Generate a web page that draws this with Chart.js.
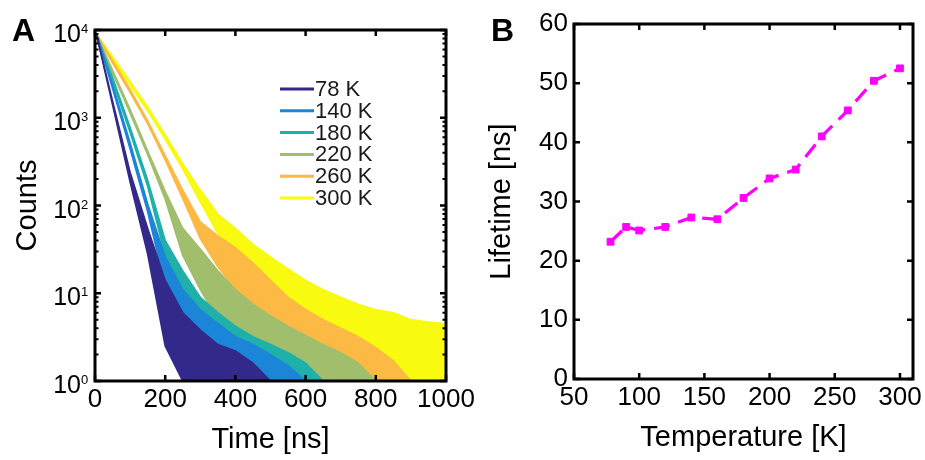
<!DOCTYPE html>
<html><head><meta charset="utf-8">
<script src="https://cdn.jsdelivr.net/npm/chart.js@4.4.1/dist/chart.umd.min.js"></script>
<style>
html,body{margin:0;padding:0;background:#fff;}
#wrap{position:relative;width:925px;height:460px;overflow:hidden;font-family:'Liberation Sans',Arial,Helvetica,sans-serif;}
#ca{position:absolute;left:0;top:0;}
#cb{position:absolute;left:480px;top:0;}
.pl{position:absolute;font-weight:bold;font-size:32px;line-height:1;color:#000;}
</style></head><body>
<div id="wrap">
<canvas id="ca" width="490" height="460"></canvas>
<canvas id="cb" width="445" height="460"></canvas>
<div class="pl" style="left:12px;top:14px">A</div>
<div class="pl" style="left:491px;top:14px">B</div>
</div>
<script>
const FONT = "'Liberation Sans', Arial, Helvetica, sans-serif";

// ---------- Panel A: decay curves (envelopes) ----------
const decayTimes = [4, 50, 100, 150, 200, 250, 300, 350, 400, 450, 500, 550, 600, 650, 700, 750, 800, 850, 900, 950, 1000];
const curveLabels = ['78 K', '140 K', '180 K', '220 K', '260 K', '300 K'];
const upper78  = [9000, 1550, 240, 55, 14, 6, 3.8, 2.6, 2.2, 1.6, 1, 1, 1, 1, 1, 1, 1, 1, 1, 1, 1];
const lower78  = [9000, 1400, 185, 28, 2.5, 1, 1, 1, 1, 1, 1, 1, 1, 1, 1, 1, 1, 1, 1, 1, 1];
const upper140 = [9000, 2400, 520, 105, 26, 11, 6.5, 4.5, 3.2, 2.6, 2, 1.5, 1, 1, 1, 1, 1, 1, 1, 1, 1];
const lower140 = [9000, 2150, 440, 85, 12, 4, 1.8, 1, 1, 1, 1, 1, 1, 1, 1, 1, 1, 1, 1, 1, 1];
const upper180 = [9000, 2900, 780, 195, 40, 18, 9, 6, 4.2, 3.2, 2.6, 2.1, 1.6, 1, 1, 1, 1, 1, 1, 1, 1];
const lower180 = [9000, 2600, 680, 165, 27, 7, 2.5, 1, 1, 1, 1, 1, 1, 1, 1, 1, 1, 1, 1, 1, 1];
const upper220 = [9000, 3500, 1250, 420, 145, 55, 32, 18, 11, 7.5, 5.5, 4.2, 3.3, 2.6, 2.1, 1.6, 1, 1, 1, 1, 1];
const lower220 = [9000, 3250, 1130, 380, 118, 27, 11, 5, 2.5, 1, 1, 1, 1, 1, 1, 1, 1, 1, 1, 1, 1];
const upper260 = [9000, 4500, 2100, 920, 370, 150, 65, 45, 33, 22, 14, 9, 6.5, 5, 4, 3.2, 2.4, 1.7, 1, 1, 1];
const lower260 = [9000, 4200, 1950, 850, 330, 120, 42, 20, 11, 5, 2.5, 1.2, 1, 1, 1, 1, 1, 1, 1, 1, 1];
const upper300 = [9000, 5000, 2600, 1330, 640, 300, 150, 80, 55, 36, 26, 19, 14, 11, 9, 7.5, 6.5, 6, 5, 4.7, 4.5];
const lower300 = [9000, 4600, 2350, 1200, 570, 260, 110, 48, 25, 13, 7, 4, 3, 2, 1.4, 1, 1, 1, 1, 1, 1];
const timeTicks = [0, 200, 400, 600, 800, 1000];
const countTicks = [1, 10, 100, 1000, 10000];
const countExponents = ['0', '1', '2', '3', '4'];

// ---------- Panel B: lifetime vs temperature ----------
const temperatures = [78, 90, 100, 120, 140, 160, 180, 200, 220, 240, 260, 280, 300];
const lifetimes = [23.2, 25.7, 25.1, 25.7, 27.3, 27.0, 30.6, 33.9, 35.4, 41.0, 45.4, 50.4, 52.5];
const tempTicks = [50, 100, 150, 200, 250, 300];
const lifeTicks = [0, 10, 20, 30, 40, 50, 60];

const curveColors = ['#32298a', '#1b85d8', '#1fb0aa', '#a0be6c', '#fcb943', '#f8fa0f'];
const uppers = [upper78, upper140, upper180, upper220, upper260, upper300];
const lowers = [lower78, lower140, lower180, lower220, lower260, lower300];

const dsA = [];
curveLabels.forEach((lab, k) => {
  dsA.push({label: lab, data: decayTimes.map((t, i) => ({x: t, y: uppers[k][i]})),
    borderColor: curveColors[k], backgroundColor: curveColors[k], borderWidth: 1.6,
    pointRadius: 0, fill: '+1', tension: 0});
  dsA.push({label: lab + ' low', data: decayTimes.map((t, i) => ({x: t, y: lowers[k][i]})),
    borderColor: curveColors[k], backgroundColor: curveColors[k], borderWidth: 1.6,
    pointRadius: 0, fill: false, tension: 0});
});

function makeFrame(opt) {
  return {
    id: 'frame' + opt.name,
    afterDatasetsDraw(chart) {
      const {ctx, chartArea: a, scales} = chart;
      const xs = scales.x, ys = scales.y;
      ctx.save();
      ctx.strokeStyle = '#000';
      ctx.lineWidth = 2.5;
      ctx.beginPath();
      opt.xMajor.forEach(v => {
        const p = xs.getPixelForValue(v);
        ctx.moveTo(p, a.bottom); ctx.lineTo(p, a.bottom - 6);
        ctx.moveTo(p, a.top); ctx.lineTo(p, a.top + 6);
      });
      opt.yMajor.forEach(v => {
        const p = ys.getPixelForValue(v);
        ctx.moveTo(a.left, p); ctx.lineTo(a.left + 6, p);
        ctx.moveTo(a.right, p); ctx.lineTo(a.right - 6, p);
      });
      ctx.stroke();
      if (opt.yMinor) {
        ctx.lineWidth = 2;
        ctx.beginPath();
        opt.yMinor.forEach(v => {
          const p = ys.getPixelForValue(v);
          ctx.moveTo(a.left, p); ctx.lineTo(a.left + 3.5, p);
          ctx.moveTo(a.right, p); ctx.lineTo(a.right - 3.5, p);
        });
        ctx.stroke();
      }
      ctx.lineWidth = 3;
      ctx.strokeRect(a.left, a.top, a.right - a.left, a.bottom - a.top);
      if (opt.after) opt.after(chart);
      ctx.restore();
    }
  };
}

const minorA = [];
[1, 10, 100, 1000].forEach(d => { for (let m = 2; m <= 9; m++) minorA.push(d * m); });

const frameA = makeFrame({
  name: 'A', xMajor: timeTicks, yMajor: countTicks, yMinor: minorA,
  after(chart) {
    const {ctx, scales} = chart;
    const ys = scales.y;
    ctx.fillStyle = '#000';
    countTicks.forEach((v, i) => {
      const p = ys.getPixelForValue(v);
      ctx.font = '25px ' + FONT;
      ctx.textAlign = 'right';
      ctx.textBaseline = 'alphabetic';
      ctx.fillText('10', 81, p + 12);
      ctx.font = '13px ' + FONT;
      ctx.textAlign = 'left';
      ctx.fillText(countExponents[i], 81, p + 3);
    });
    // legend
    ctx.font = '22px ' + FONT;
    ctx.textAlign = 'left';
    ctx.textBaseline = 'middle';
    curveLabels.forEach((lab, k) => {
      const y = 89 + k * 21.8;
      ctx.strokeStyle = curveColors[k];
      ctx.lineWidth = 3;
      ctx.beginPath(); ctx.moveTo(280, y); ctx.lineTo(314, y); ctx.stroke();
      ctx.fillStyle = '#1a1a1a';
      ctx.fillText(lab, 315, y + 1);
    });
  }
});

const plainTick = v => String(v);

new Chart(document.getElementById('ca'), {
  type: 'line',
  data: {datasets: dsA},
  options: {
    responsive: false, animation: false,
    layout: {padding: {left: 0, right: 44, top: 30, bottom: 0}},
    plugins: {legend: {display: false}, tooltip: {enabled: false}},
    scales: {
      x: {type: 'linear', min: 0, max: 1000,
        afterBuildTicks: s => { s.ticks = timeTicks.map(v => ({value: v})); },
        grid: {display: false, drawTicks: false}, border: {display: false},
        ticks: {font: {family: FONT, size: 26}, color: '#000', padding: 3, maxRotation: 0, autoSkip: false, callback: plainTick},
        title: {display: true, text: 'Time [ns]', font: {family: FONT, size: 29}, color: '#000', padding: {top: 0, bottom: 3}},
        afterFit: s => { s.height = 79; }},
      y: {type: 'logarithmic', min: 1, max: 10000,
        afterBuildTicks: s => { s.ticks = countTicks.map(v => ({value: v})); },
        grid: {display: false, drawTicks: false}, border: {display: false},
        ticks: {display: false},
        title: {display: true, text: 'Counts', font: {family: FONT, size: 29}, color: '#000', padding: {top: 11, bottom: 0}},
        afterFit: s => { s.width = 95; }}
    }
  },
  plugins: [frameA]
});

const frameB = makeFrame({name: 'B', xMajor: tempTicks, yMajor: lifeTicks});

new Chart(document.getElementById('cb'), {
  type: 'line',
  data: {datasets: [{label: 'Lifetime', data: temperatures.map((t, i) => ({x: t, y: lifetimes[i]})),
    borderColor: '#ff00ff', backgroundColor: '#ff00ff', borderWidth: 3.2, borderDash: [16, 9],
    pointStyle: 'rect', pointRadius: 4.8, pointBorderWidth: 1, pointBorderColor: '#ff00ff', fill: false, tension: 0}]},
  options: {
    responsive: false, animation: false,
    layout: {padding: {left: 0, right: 9, top: 24, bottom: 0}},
    plugins: {legend: {display: false}, tooltip: {enabled: false}},
    scales: {
      x: {type: 'linear', min: 50, max: 310,
        afterBuildTicks: s => { s.ticks = tempTicks.map(v => ({value: v})); },
        grid: {display: false, drawTicks: false}, border: {display: false},
        ticks: {font: {family: FONT, size: 26}, color: '#000', padding: 3, maxRotation: 0, autoSkip: false, callback: plainTick},
        title: {display: true, text: 'Temperature [K]', font: {family: FONT, size: 29}, color: '#000', padding: {top: 0, bottom: 5}},
        afterFit: s => { s.height = 81; }},
      y: {type: 'linear', min: 0, max: 60,
        afterBuildTicks: s => { s.ticks = lifeTicks.map(v => ({value: v})); },
        grid: {display: false, drawTicks: false}, border: {display: false},
        ticks: {font: {family: FONT, size: 26}, color: '#000', padding: 6, callback: plainTick},
        title: {display: true, text: 'Lifetime [ns]', font: {family: FONT, size: 29}, color: '#000', padding: {top: 5, bottom: 0}},
        afterFit: s => { s.width = 94; }}
    }
  },
  plugins: [frameB]
});
</script>
</body></html>
